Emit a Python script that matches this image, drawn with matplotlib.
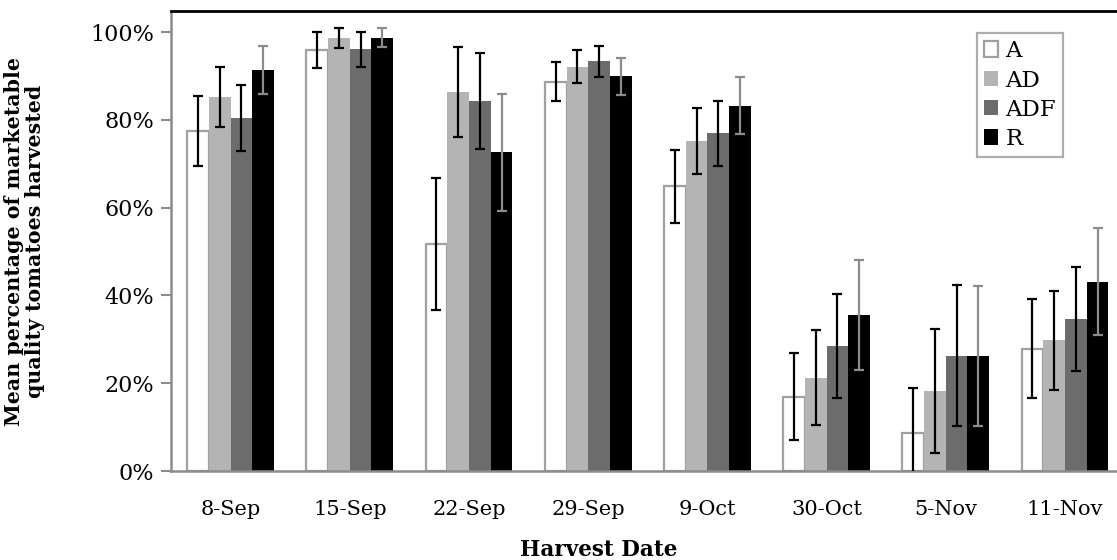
import numpy as np
import matplotlib
matplotlib.use('Agg')
import matplotlib.pyplot as plt
from matplotlib.ticker import PercentFormatter

dates = ['8-Sep', '15-Sep', '22-Sep', '29-Sep', '9-Oct', '30-Oct', '5-Nov', '11-Nov']

# mean percentage (%) and error (+/- %) per treatment
a_vals = [77.5, 96.0, 51.7, 88.7, 64.9, 16.9, 8.7, 27.9]
a_err = [8.0, 4.1, 15.1, 4.4, 8.3, 9.9, 10.3, 11.2]
ad_vals = [85.2, 98.6, 86.3, 92.1, 75.2, 21.3, 18.2, 29.8]
ad_err = [6.8, 2.3, 10.3, 3.8, 7.5, 10.8, 14.1, 11.3]
adf_vals = [80.4, 96.1, 84.3, 93.3, 76.9, 28.5, 26.3, 34.6]
adf_err = [7.6, 4.0, 11.0, 3.6, 7.3, 11.9, 16.0, 11.8]
r_vals = [91.4, 98.7, 72.6, 89.9, 83.2, 35.5, 26.2, 43.1]
r_err = [5.4, 2.2, 13.4, 4.2, 6.5, 12.6, 16.0, 12.2]

names = ['A', 'AD', 'ADF', 'R']

plt.rcParams['font.family'] = ['DejaVu Serif']

fig = plt.figure(figsize=(11.17, 5.6), dpi=100)
ax = fig.add_axes([171 / 1117, 89 / 560, 953.6 / 1117, 460 / 560])

x = np.arange(len(dates))
w = 0.182
series = [
    (a_vals, a_err, 'white', '#a0a0a0', 1.6, 'black'),
    (ad_vals, ad_err, '#b4b4b4', 'none', 0, 'black'),
    (adf_vals, adf_err, '#6c6c6c', 'none', 0, 'black'),
    (r_vals, r_err, 'black', 'none', 0, '#8c8c8c'),
]

for i, (vals, err, fc, ec, lw, errc) in enumerate(series):
    pos = x + (i - 1.5) * w
    v = np.array(vals) / 100
    e = np.array(err) / 100
    ax.bar(pos, v, w, color=fc, edgecolor=ec, linewidth=lw, label=names[i], zorder=2)
    ax.errorbar(pos, v, yerr=e, fmt='none', ecolor=errc, elinewidth=1.6,
                capsize=3.8, capthick=1.6, zorder=3)

ax.set_xlim(-0.5, len(dates) - 0.5)
ax.set_ylim(0, 1.048)
ax.set_yticks(np.arange(0, 1.01, 0.2))
ax.yaxis.set_major_formatter(PercentFormatter(1.0, decimals=0))
ax.set_xticks(x)
ax.set_xticklabels(dates)

ax.tick_params(axis='x', length=0, pad=21, labelsize=15)
ax.tick_params(axis='y', length=7, width=1.5, color='#8c8c8c', pad=5, labelsize=16)

for side in ['left', 'bottom']:
    ax.spines[side].set_color('#8c8c8c')
    ax.spines[side].set_linewidth(1.8)
ax.spines['top'].set_color('black')
ax.spines['top'].set_linewidth(2)
ax.spines['right'].set_visible(False)

ax.set_ylabel('Mean percentage of marketable\nquality tomatoes harvested',
              fontsize=14.8, fontweight='bold', linespacing=1.1)
ax.yaxis.set_label_coords(-0.132, 0.5)
ax.set_xlabel('Harvest Date', fontsize=15.5, fontweight='bold')
ax.xaxis.set_label_coords(0.448, -0.148)

leg = ax.legend(loc='upper left', bbox_to_anchor=(976.7 / 1117, 1 - 33.3 / 560),
                bbox_transform=fig.transFigure, fontsize=16.5, frameon=True,
                fancybox=False, handlelength=0.65, handleheight=0.65,
                handletextpad=0.3, labelspacing=0.32, borderpad=0.3,
                borderaxespad=0)
leg.get_frame().set_edgecolor('#999999')
leg.get_frame().set_linewidth(1.6)

fig.savefig('out.png', dpi=100)
